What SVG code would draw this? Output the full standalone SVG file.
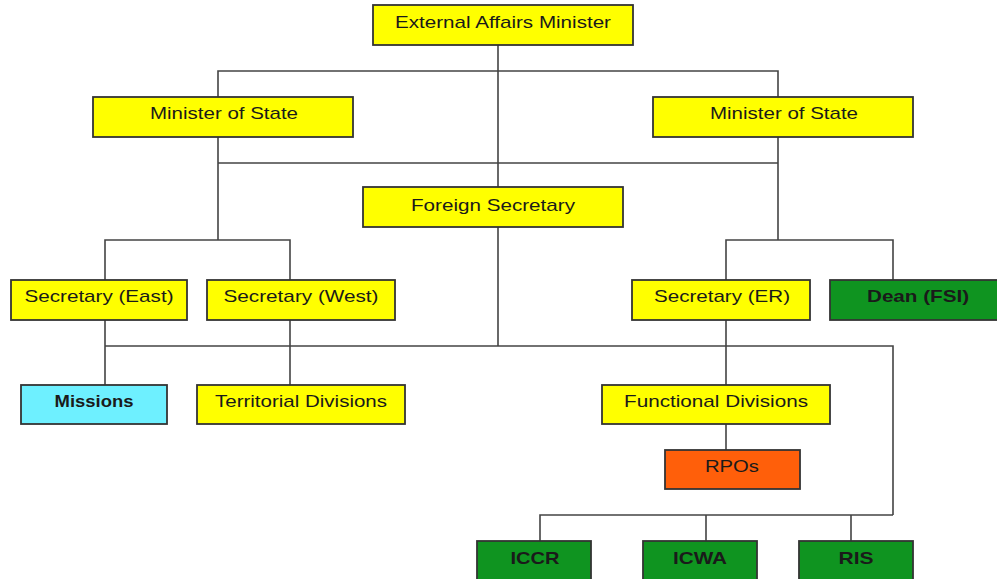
<svg xmlns="http://www.w3.org/2000/svg" width="997" height="579" viewBox="0 0 997 579">
<style>
.b{stroke:#333;stroke-width:1.8}
.y{fill:#ffff00}
.c{fill:#6ef0ff}
.g{fill:#0f9420}
.o{fill:#ff5f0a}
text{font-family:"Liberation Sans",Arial,sans-serif;font-size:17px;fill:#1a1a1a;text-anchor:middle}
.bd{font-weight:bold}
#conn path{fill:none;stroke:#444;stroke-width:1.6}
</style>
<rect width="997" height="579" fill="#fff"/>
<g id="conn">
<path d="M498,45V187M218,97V71H778V97M218,137V240M778,137V240M218,163H778"/>
<path d="M105,280V240H290V280M726,280V240H893V280"/>
<path d="M498,227V346M105,320V385M290,320V385M726,320V385M105,346H893V515M726,424V450"/>
<path d="M540,541V515H893M706,515V541M851,515V541"/>
</g>
<g id="eam"><rect class="b y" x="373" y="5" width="260" height="40"/><text x="503" y="28" textLength="216" lengthAdjust="spacingAndGlyphs">External Affairs Minister</text></g>
<g id="mos-left"><rect class="b y" x="93" y="97" width="260" height="40"/><text x="224" y="119" textLength="148" lengthAdjust="spacingAndGlyphs">Minister of State</text></g>
<g id="mos-right"><rect class="b y" x="653" y="97" width="260" height="40"/><text x="784" y="119" textLength="148" lengthAdjust="spacingAndGlyphs">Minister of State</text></g>
<g id="fs"><rect class="b y" x="363" y="187" width="260" height="40"/><text x="493" y="211" textLength="164" lengthAdjust="spacingAndGlyphs">Foreign Secretary</text></g>
<g id="sec-east"><rect class="b y" x="11" y="280" width="176" height="40"/><text x="99" y="302" textLength="149" lengthAdjust="spacingAndGlyphs">Secretary (East)</text></g>
<g id="sec-west"><rect class="b y" x="207" y="280" width="188" height="40"/><text x="301" y="302" textLength="155" lengthAdjust="spacingAndGlyphs">Secretary (West)</text></g>
<g id="sec-er"><rect class="b y" x="632" y="280" width="178" height="40"/><text x="722" y="302" textLength="136" lengthAdjust="spacingAndGlyphs">Secretary (ER)</text></g>
<g id="dean"><rect class="b g" x="830" y="280" width="170" height="40"/><text class="bd" x="918" y="302" textLength="102" lengthAdjust="spacingAndGlyphs">Dean (FSI)</text></g>
<g id="missions"><rect class="b c" x="21" y="385" width="146" height="39"/><text class="bd" x="94" y="407" textLength="79" lengthAdjust="spacingAndGlyphs">Missions</text></g>
<g id="territorial"><rect class="b y" x="197" y="385" width="208" height="39"/><text x="301" y="407" textLength="172" lengthAdjust="spacingAndGlyphs">Territorial Divisions</text></g>
<g id="functional"><rect class="b y" x="602" y="385" width="228" height="39"/><text x="716" y="407" textLength="184" lengthAdjust="spacingAndGlyphs">Functional Divisions</text></g>
<g id="rpos"><rect class="b o" x="665" y="450" width="135" height="39"/><text x="732" y="472" textLength="54" lengthAdjust="spacingAndGlyphs">RPOs</text></g>
<g id="iccr"><rect class="b g" x="477" y="541" width="114" height="45"/><text class="bd" x="535" y="564" textLength="49" lengthAdjust="spacingAndGlyphs">ICCR</text></g>
<g id="icwa"><rect class="b g" x="643" y="541" width="114" height="45"/><text class="bd" x="700" y="564" textLength="54" lengthAdjust="spacingAndGlyphs">ICWA</text></g>
<g id="ris"><rect class="b g" x="799" y="541" width="114" height="45"/><text class="bd" x="856" y="564" textLength="35" lengthAdjust="spacingAndGlyphs">RIS</text></g>
</svg>
